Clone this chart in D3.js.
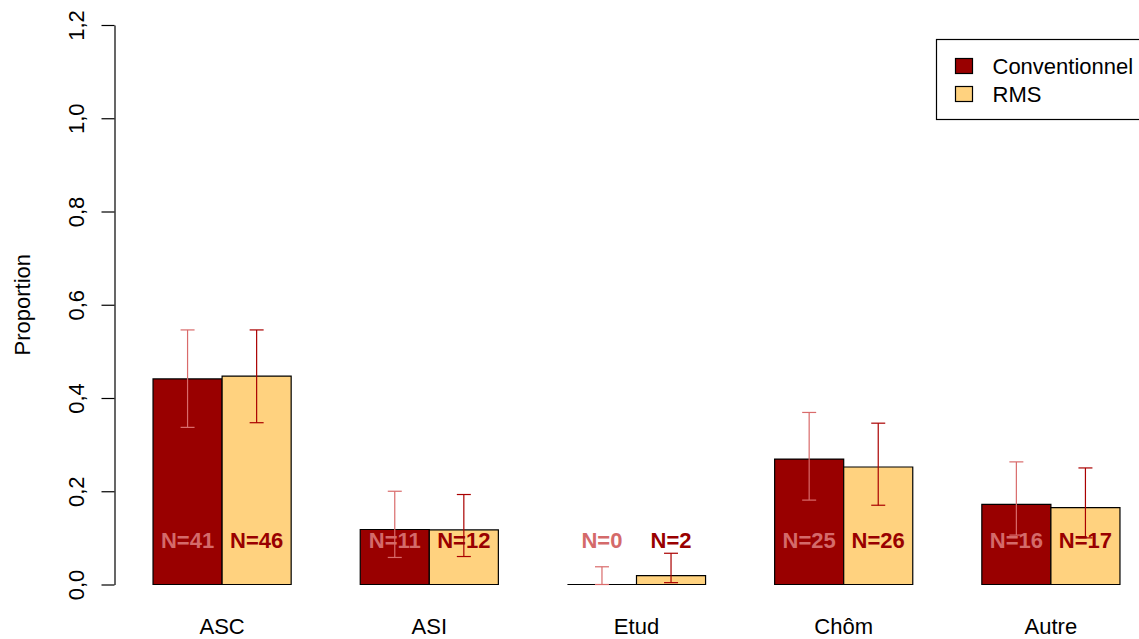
<!DOCTYPE html>
<html>
<head>
<meta charset="utf-8">
<script src="https://cdn.jsdelivr.net/npm/d3@7"></script>
<style>
  body { margin: 0; background: #fff; }
  svg { display: block; font-family: "Liberation Sans", Arial, sans-serif; }
</style>
</head>
<body>
<div id="chart"></div>
<script>
// data
const categories = ["ASC", "ASI", "Etud", "Chôm", "Autre"];
const seriesNames = ["Conventionnel", "RMS"];
const convValues = [0.441, 0.118, 0.0, 0.269, 0.172];
const rmsValues  = [0.447, 0.117, 0.019, 0.252, 0.165];
const convLower  = [0.337, 0.058, 0.0, 0.181, 0.106];
const convUpper  = [0.546, 0.200, 0.038, 0.369, 0.263];
const rmsLower   = [0.347, 0.060, 0.004, 0.170, 0.100];
const rmsUpper   = [0.546, 0.193, 0.067, 0.346, 0.250];
const convN = [41, 11, 0, 25, 16];
const rmsN  = [46, 12, 2, 26, 17];
const yTicks = [0, 0.2, 0.4, 0.6, 0.8, 1.0, 1.2];

const width = 1139, height = 639;
const fontSize = 22;
const fills = ["#990000", "#ffd27f"];
const errColors = ["#d96b6b", "#aa0000"];
const labelColors = ["#d46a6a", "#990000"];

const svg = d3.select("#chart").append("svg")
    .attr("width", width)
    .attr("height", height);

// Scales
const y = d3.scaleLinear().domain([0, 1.2]).range([584.5, 25]);

const x0 = d3.scaleBand()
    .domain(categories)
    .range([118.5, 1154.5])
    .paddingInner(1 / 3)
    .paddingOuter(1 / 6);

const x1 = d3.scaleBand()
    .domain(seriesNames)
    .range([0, x0.bandwidth()]);

// rows per group
const rows = categories.map((c, i) => [
    { cat: c, s: 0, v: convValues[i], lo: convLower[i], hi: convUpper[i], n: convN[i] },
    { cat: c, s: 1, v: rmsValues[i], lo: rmsLower[i], hi: rmsUpper[i], n: rmsN[i] }
]).flat();

const bx = d => x0(d.cat) + x1(seriesNames[d.s]);
const cx = d => bx(d) + x1.bandwidth() / 2;

// Bars (paths so that zero height bars still show their outline)
svg.append("g").selectAll("path")
    .data(rows)
    .join("path")
    .attr("d", d => {
        const l = bx(d), r = l + x1.bandwidth();
        return `M${l},${y(0)}V${y(d.v)}H${r}V${y(0)}Z`;
    })
    .attr("fill", d => fills[d.s])
    .attr("stroke", "#000")
    .attr("stroke-width", 1.2);

// Error bars
const cap = 7;
const err = svg.append("g").selectAll("g")
    .data(rows)
    .join("g")
    .attr("stroke", d => errColors[d.s])
    .attr("stroke-width", 1.2);

err.append("line")
    .attr("x1", cx).attr("x2", cx)
    .attr("y1", d => y(d.lo)).attr("y2", d => y(d.hi));
err.append("line")
    .attr("x1", d => cx(d) - cap).attr("x2", d => cx(d) + cap)
    .attr("y1", d => y(d.hi)).attr("y2", d => y(d.hi));
err.append("line")
    .attr("x1", d => cx(d) - cap).attr("x2", d => cx(d) + cap)
    .attr("y1", d => y(d.lo)).attr("y2", d => y(d.lo));

// N labels
svg.append("g").selectAll("text")
    .data(rows)
    .join("text")
    .attr("x", cx)
    .attr("y", 548)
    .attr("text-anchor", "middle")
    .attr("font-size", fontSize)
    .attr("font-weight", "bold")
    .attr("fill", d => labelColors[d.s])
    .text(d => `N=${d.n}`);

// Category labels
svg.append("g").selectAll("text")
    .data(categories)
    .join("text")
    .attr("x", d => x0(d) + x0.bandwidth() / 2)
    .attr("y", 634)
    .attr("text-anchor", "middle")
    .attr("font-size", fontSize)
    .text(d => d);

// Y axis
const yAxis = d3.axisLeft(y)
    .tickValues(yTicks)
    .tickSize(13)
    .tickSizeOuter(0)
    .tickFormat(d => d.toFixed(1).replace(".", ","));

const ax = svg.append("g")
    .attr("transform", "translate(114.5,0)")
    .call(yAxis);
ax.select(".domain").attr("stroke", "#000").attr("stroke-width", 1.2);
ax.selectAll(".tick line").attr("stroke", "#000").attr("stroke-width", 1.2);
ax.selectAll(".tick text")
    .attr("x", null).attr("dy", null)
    .attr("transform", "translate(-38,0) rotate(-90)")
    .attr("dy", "0.35em")
    .attr("text-anchor", "middle")
    .attr("font-size", fontSize)
    .attr("font-family", "Liberation Sans, Arial, sans-serif")
    .attr("fill", "#000");

svg.append("text")
    .attr("transform", `translate(30,${(y(0) + y(1.2)) / 2}) rotate(-90)`)
    .attr("text-anchor", "middle")
    .attr("font-size", fontSize)
    .text("Proportion");

// Legend
const legend = svg.append("g");
legend.append("rect")
    .attr("x", 936.5).attr("y", 39.5)
    .attr("width", 260).attr("height", 80)
    .attr("fill", "#fff")
    .attr("stroke", "#000")
    .attr("stroke-width", 1.2);

const item = legend.selectAll("g.item")
    .data(seriesNames)
    .join("g")
    .attr("class", "item")
    .attr("transform", (d, i) => `translate(955.5,${58.5 + i * 28})`);
item.append("rect")
    .attr("width", 17).attr("height", 15)
    .attr("fill", (d, i) => fills[i])
    .attr("stroke", "#000")
    .attr("stroke-width", 1.2);
item.append("text")
    .attr("x", 37)
    .attr("y", 7.5)
    .attr("dy", "0.35em")
    .attr("font-size", fontSize)
    .text(d => d);
</script>
</body>
</html>
